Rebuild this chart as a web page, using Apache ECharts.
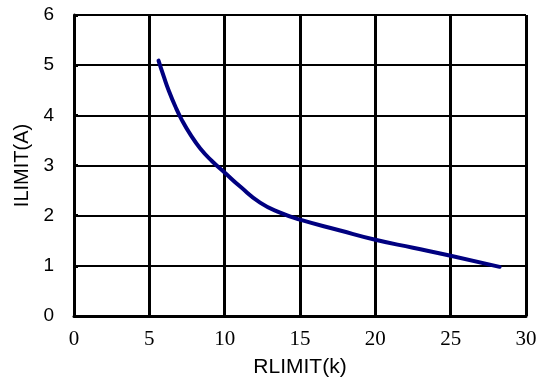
<!DOCTYPE html>
<html><head><meta charset="utf-8">
<script src="https://cdn.jsdelivr.net/npm/echarts@6/dist/echarts.min.js"></script>
<style>html,body{margin:0;padding:0;background:#fff}#c{width:547px;height:385px}</style>
</head><body><div id="c"></div>
<script>
const xTicks = [0, 5, 10, 15, 20, 25, 30];
const yTicks = [0, 1, 2, 3, 4, 5, 6];
const rlimit = [5.61, 5.95, 6.28, 6.72, 7.17, 7.72, 8.38, 9.15, 10.03, 11.03, 12.35, 13.68, 15.0, 17.6, 20.0, 22.5, 25.0, 28.25];
const ilimit = [5.09, 4.78, 4.50, 4.18, 3.90, 3.62, 3.34, 3.09, 2.85, 2.58, 2.26, 2.06, 1.92, 1.71, 1.52, 1.36, 1.2, 0.98];
const xName = 'RLIMIT(k)';
const yName = 'ILIMIT(A)';

const chart = echarts.init(document.getElementById('c'), null, {renderer: 'canvas'});
chart.setOption({
  animation: false,
  grid: {left: 74, right: 21, top: 15, bottom: 69, containLabel: false},
  xAxis: {
    type: 'value', min: xTicks[0], max: xTicks[xTicks.length - 1], interval: 5,
    name: xName, nameLocation: 'middle', nameGap: 41,
    nameTextStyle: {fontFamily: 'Liberation Sans', fontSize: 21, color: '#000'},
    axisLine: {show: true, lineStyle: {color: '#000', width: 3}},
    axisTick: {show: false},
    axisLabel: {fontFamily: 'Liberation Serif', fontSize: 21, color: '#000', margin: 13},
    splitLine: {show: true, lineStyle: {color: '#000', width: 3}}
  },
  yAxis: {
    type: 'value', min: yTicks[0], max: yTicks[yTicks.length - 1], interval: 1,
    name: yName, nameLocation: 'middle', nameGap: 37, nameRotate: 90,
    nameTextStyle: {fontFamily: 'Liberation Sans', fontSize: 20, color: '#000'},
    axisLine: {show: true, lineStyle: {color: '#000', width: 3}},
    axisTick: {show: true, inside: true, length: 4, lineStyle: {color: '#000', width: 3}},
    axisLabel: {fontFamily: 'Liberation Sans', fontSize: 19, color: '#000', margin: 20},
    splitLine: {show: true, lineStyle: {color: '#000', width: 2}}
  },
  series: [{
    type: 'line', smooth: 0.5, showSymbol: false,
    data: rlimit.map((x, i) => [x, ilimit[i]]),
    lineStyle: {color: '#000080', width: 4, cap: 'round'}
  }]
});
</script></body></html>
